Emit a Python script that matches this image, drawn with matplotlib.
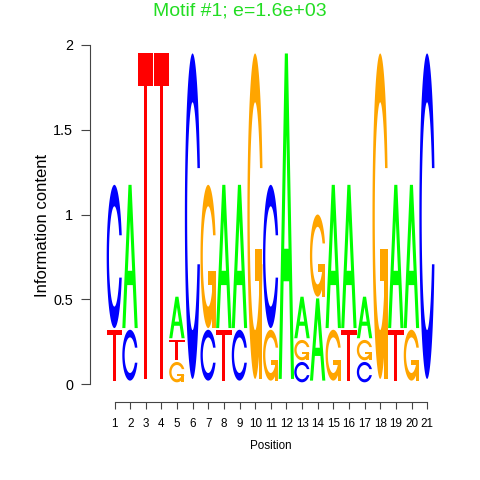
import numpy as np
import matplotlib
matplotlib.use('Agg')
import matplotlib.pyplot as plt

plt.rcParams['font.family'] = ['Liberation Sans', 'DejaVu Sans']

positions = list(range(1, 22))
height_A = [0, .845, 0, 0, .245, 0, 0, .845, .845, 0, 0, 1.92, .245, .485, .845, .845, .245, 0, .845, .845, 0]
height_C = [.845, .30, 0, 0, 0, 1.92, .30, 0, .30, 0, .845, 0, .12, 0, 0, 0, .12, 0, 0, 0, 1.92]
height_G = [0, 0, 0, 0, .12, 0, .845, 0, 0, 1.92, .30, 0, .12, .485, .30, 0, .12, 1.92, 0, .30, 0]
height_T = [.30, 0, 1.92, 1.92, .12, 0, 0, .30, 0, 0, 0, 0, 0, 0, 0, .30, 0, 0, .30, 0, 0]

title = 'Motif #1; e=1.6e+03'
colors = {'A': '#00FF00', 'C': '#0000FF', 'G': '#FFA500', 'T': '#FF0000'}


# glyph outlines in a unit box (seqLogo style)
def arc_shape():
    a1 = np.linspace(0.3 + np.pi / 2, np.pi, 100)
    a2 = np.linspace(np.pi, 1.5 * np.pi, 100)
    xl1, yl1 = 0.5 + 0.5 * np.sin(a1), 0.5 + 0.5 * np.cos(a1)
    xl2, yl2 = 0.5 + 0.5 * np.sin(a2), 0.5 + 0.5 * np.cos(a2)
    xl, yl = np.r_[xl1, xl2], np.r_[yl1, yl2]
    x = np.r_[xl, xl[::-1]]
    y = np.r_[yl, 1 - yl[::-1]]
    xi1, yi1 = 0.5 + 0.35 * np.sin(a1), 0.5 + 0.35 * np.cos(a1)
    keep = yi1 <= yl1.max()
    xi1, yi1 = xi1[keep], yi1[keep]
    yi1[0] = yl1.max()
    xi2, yi2 = 0.5 + 0.35 * np.sin(a2), 0.5 + 0.35 * np.cos(a2)
    xi, yi = np.r_[xi1, xi2], np.r_[yi1, yi2]
    x1 = np.r_[xi, xi[::-1]]
    y1 = np.r_[yi, 1 - yi[::-1]]
    return np.r_[x, x1[::-1]], np.r_[y, y1[::-1]], xl1.max()


def glyph(letter):
    if letter == 'A':
        return [(np.array([0, 4, 6, 10, 8, 6.8, 3.2, 2, 0]) / 10,
                 np.array([0, 10, 10, 0, 0, 3, 3, 0, 0]) / 10, colors['A']),
                (np.array([3.6, 5, 6.4, 3.6]) / 10,
                 np.array([4, 7.5, 4, 4]) / 10, 'white')]
    if letter == 'T':
        return [(np.array([0, 10, 10, 6, 6, 4, 4, 0]) / 10,
                 np.array([10, 10, 9, 9, 0, 0, 9, 9]) / 10, colors['T'])]
    x, y, r1 = arc_shape()
    if letter == 'C':
        return [(x, y, colors['C'])]
    h1 = 0.4
    xa = np.array([r1, 0.5, 0.5, r1 - 0.2, r1 - 0.2, r1, r1])
    ya = np.array([h1, h1, h1 - 0.1, h1 - 0.1, 0, 0, h1])
    return [(x, y, colors['G']), (xa, ya, colors['G'])]


fig = plt.figure(figsize=(4.8, 4.8), dpi=100)
px = 15.635  # pixels per position
ax = fig.add_axes([90 / 480, 96 / 480, 350 / 480, 339 / 480])
ax.set_xlim(1 - 24.5 / px, 1 - 24.5 / px + 350 / px)
ax.set_ylim(0, 2)

heights = {'A': height_A, 'C': height_C, 'G': height_G, 'T': height_T}
letters = ['A', 'C', 'G', 'T']
for j, pos in enumerate(positions):
    col = np.array([heights[l][j] for l in letters])
    ypos = 0.0
    for k in np.argsort(col, kind='stable'):
        ht = col[k]
        if ht > 0:
            for gx, gy, c in glyph(letters[k]):
                ax.fill(pos - 0.5 + 0.985 * gx, ypos + ht * gy, color=c, lw=0)
        ypos += ht + 0.01

for s in ['top', 'right']:
    ax.spines[s].set_visible(False)
ax.spines['left'].set_bounds(0, 2)
ax.spines['bottom'].set_bounds(1, 21)
ax.spines['bottom'].set_position(('outward', 12.7))
for s in ['left', 'bottom']:
    ax.spines[s].set_color('#444444')
    ax.spines[s].set_linewidth(0.8)

ax.set_yticks([0, 0.5, 1, 1.5, 2])
ax.set_yticklabels(['0', '0.5', '1', '1.5', '2'])
ax.set_xticks(positions)
ax.set_xticklabels([str(p) for p in positions])
ax.tick_params(axis='y', length=6.2, pad=6, labelsize=10.4, color='#444444', width=0.8)
ax.tick_params(axis='x', length=4.8, pad=7, labelsize=8.4, color='#444444', width=0.8)

fig.text(43 / 480, 1 - 225 / 480, 'Information content', rotation=90,
         ha='center', va='center', fontsize=12)
fig.text(270.7 / 480, 1 - 445.7 / 480, 'Position', ha='center', va='center', fontsize=8.4)
fig.text(0.5, 1 - 15 / 480, title, ha='center', va='baseline', fontsize=14, color='#22DD22')

plt.savefig('out.png', dpi=100)
